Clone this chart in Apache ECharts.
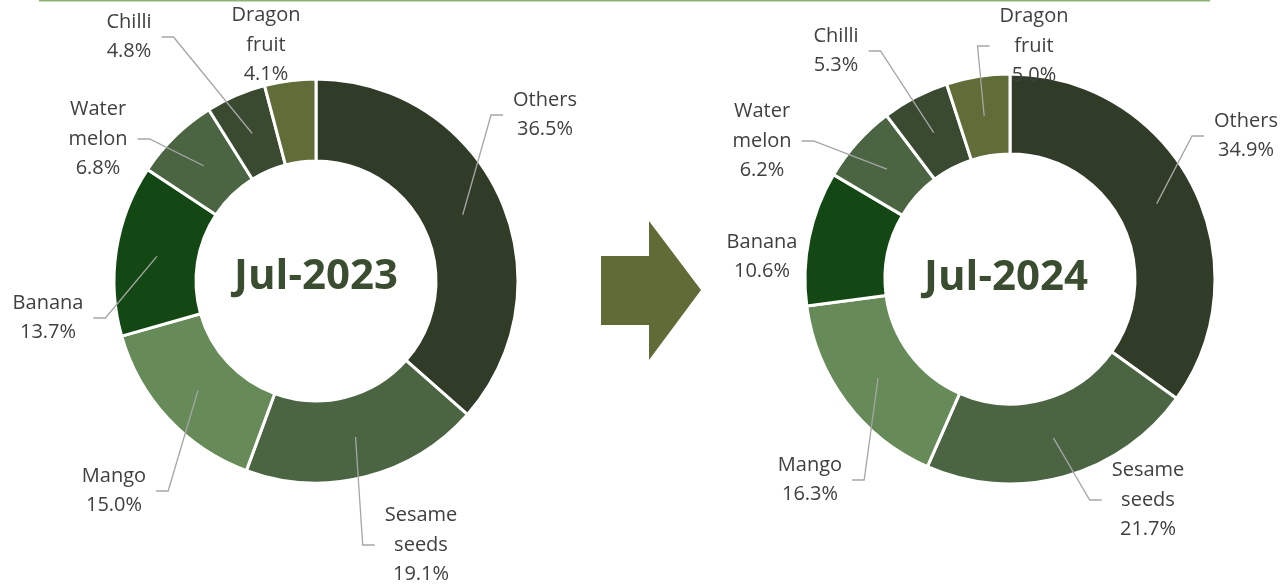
<!DOCTYPE html>
<html>
<head>
<meta charset="utf-8">
<script src="https://cdn.jsdelivr.net/npm/echarts@6/dist/echarts.min.js"></script>
<style>
  html, body { margin: 0; padding: 0; background: #fff; }
  #chart { width: 1283px; height: 587px; }
</style>
</head>
<body>
<div id="chart"></div>
<script>
// data (share in %)
var categories = ['Others', 'Sesame seeds', 'Mango', 'Banana', 'Water melon', 'Chilli', 'Dragon fruit'];
var jul2023 = [36.5, 19.1, 15.0, 13.7, 6.8, 4.8, 4.1];
var jul2024 = [34.9, 21.7, 16.3, 10.6, 6.2, 5.3, 5.0];
var periods = ['Jul-2023', 'Jul-2024'];

var sliceColors = ['#303c28', '#4b6543', '#668a58', '#134713', '#4b6543', '#3a4a31', '#606d38'];
var labelFont = '20px "Open Sans"';

// geometry of the two donuts (px)
var donuts = [
    { cx: 316, cy: 281, r0: 120, r1: 202 },
    { cx: 1010, cy: 279, r0: 125, r1: 205 }
];
// where each label sits (text centre), same order as categories
var labelSpots = [
    [[545, 115], [421, 545], [114, 491], [48, 318], [98, 139], [129, 37], [266, 45]],
    [[1246, 136], [1148, 500], [810, 480], [762, 257], [762, 141], [836, 51], [1034, 46]]
];
var noLeader = [['Dragon fruit'], ['Banana']];

var myChart = echarts.init(document.getElementById('chart'));

var ctx = document.createElement('canvas').getContext('2d');
ctx.font = labelFont;

function labelText(name, v) {
    return name.split(' ').join('\n') + '\n' + v.toFixed(1) + '%';
}

function textWidth(txt) {
    var w = 0;
    txt.split('\n').forEach(function (l) { w = Math.max(w, ctx.measureText(l).width); });
    return w;
}

function midRing(si, di) {
    var vals = si === 0 ? jul2023 : jul2024;
    var total = 0, before = 0;
    for (var i = 0; i < vals.length; i++) {
        total += vals[i];
        if (i < di) before += vals[i];
    }
    var a = (before + vals[di] / 2) / total * Math.PI * 2;
    var d = donuts[si];
    var rm = (d.r0 + d.r1) / 2;
    return [d.cx + rm * Math.sin(a), d.cy - rm * Math.cos(a)];
}

// leader lines: from the middle of the ring to a short elbow beside the label
function leaderLines(si, vals) {
    var d = donuts[si];
    var out = [];
    categories.forEach(function (c, i) {
        if (noLeader[si].indexOf(c) >= 0) return;
        var spot = labelSpots[si][i];
        var w = textWidth(labelText(c, vals[i]));
        var p0 = midRing(si, i), p1, p2;
        if (spot[0] < d.cx) {
            p2 = [spot[0] + w / 2 + 10, spot[1]];
            p1 = [p2[0] + 12, spot[1]];
        } else {
            p2 = [spot[0] - w / 2 - 10, spot[1]];
            p1 = [p2[0] - 12, spot[1]];
        }
        out.push({
            type: 'polyline',
            z: 50,
            shape: { points: [p0, p1, p2] },
            style: { stroke: '#a6a6a6', lineWidth: 1.3, fill: null }
        });
    });
    return out;
}

function makeSeries(si, vals) {
    var d = donuts[si];
    return {
        name: periods[si],
        type: 'pie',
        center: [d.cx, d.cy],
        radius: [d.r0, d.r1],
        startAngle: 90,
        clockwise: true,
        avoidLabelOverlap: false,
        silent: true,
        itemStyle: { borderColor: '#ffffff', borderWidth: 3 },
        label: {
            show: true,
            position: 'outside',
            color: '#404040',
            fontFamily: 'Open Sans',
            fontSize: 20,
            lineHeight: 29.5,
            align: 'center',
            formatter: function (p) {
                return labelText(p.name, p.value);
            }
        },
        labelLine: { show: false },
        labelLayout: function (params) {
            var spot = labelSpots[si][params.dataIndex];
            return {
                x: spot[0],
                y: spot[1],
                align: 'center',
                verticalAlign: 'middle'
            };
        },
        data: categories.map(function (c, i) {
            return { name: c, value: vals[i], itemStyle: { color: sliceColors[i] } };
        })
    };
}

option = {
    animation: false,
    backgroundColor: '#ffffff',
    graphic: [
        {
            type: 'line',
            shape: { x1: 39, y1: 0.5, x2: 1210, y2: 0.5 },
            style: { stroke: '#8cb574', lineWidth: 2 }
        },
        {
            // arrow between the two donuts
            type: 'polygon',
            shape: { points: [[601, 256], [649, 256], [649, 221], [701, 290], [649, 360], [649, 325], [601, 325]] },
            style: { fill: '#606b37' }
        },
        {
            type: 'text',
            x: donuts[0].cx, y: donuts[0].cy - 4,
            style: {
                text: periods[0], align: 'center', verticalAlign: 'middle',
                font: 'bold 42px "Open Sans"', fill: '#3b4d30'
            }
        },
        {
            type: 'text',
            x: donuts[1].cx - 4, y: donuts[1].cy - 1,
            style: {
                text: periods[1], align: 'center', verticalAlign: 'middle',
                font: 'bold 42px "Open Sans"', fill: '#3b4d30'
            }
        }
    ].concat(leaderLines(0, jul2023), leaderLines(1, jul2024)),
    series: [makeSeries(0, jul2023), makeSeries(1, jul2024)]
};
myChart.setOption(option);

window.onresize = function () {
    myChart.resize();
};
</script>
</body>
</html>
